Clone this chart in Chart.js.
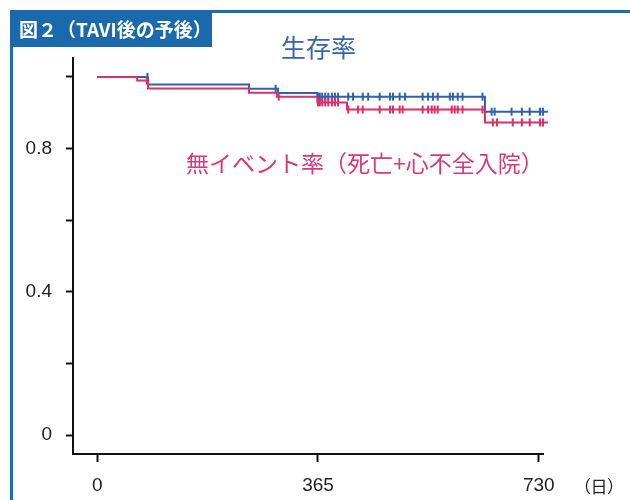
<!DOCTYPE html>
<html lang="ja">
<head>
<meta charset="utf-8">
<script src="https://cdn.jsdelivr.net/npm/chart.js@4.4.1/dist/chart.umd.min.js"></script>
<style>
  body { margin: 0; background: #fff; }
  #wrap { position: relative; width: 630px; height: 500px; overflow: hidden; font-family: "Noto Sans CJK JP", sans-serif; }
  #frame { position: absolute; left: 10px; top: 10px; width: 640px; height: 520px; border-left: 3px solid #1d6db4; border-top: 3px solid #1d6db4; box-sizing: border-box; }
  #title { position: absolute; left: 10px; top: 10px; width: 202px; height: 37px; background: #1b69ad; color: #fff; font-weight: bold; font-size: 19px; line-height: 37px; padding-left: 9px; box-sizing: border-box; white-space: nowrap; }
  canvas { position: absolute; left: 0; top: 0; }
  .lbl { position: absolute; white-space: nowrap; line-height: 1; }
  #survLbl { left: 281px; top: 34px; font-size: 25px; color: #3565ac; }
  #eventLbl { left: 186px; top: 151px; font-size: 23px; color: #d63a7b; }
  #dayLbl { left: 582px; top: 477px; font-size: 17px; color: #222; font-feature-settings: "palt"; }
</style>
</head>
<body>
<div id="wrap">
  <canvas id="km" width="630" height="500"></canvas>
  <div id="frame"></div>
  <div id="title">図２（TAVI後の予後）</div>
  <div class="lbl" id="survLbl">生存率</div>
  <div class="lbl" id="eventLbl">無イベント率（死亡+心不全入院）</div>
  <div class="lbl" id="dayLbl">（日）</div>
</div>
<script>
// survival (blue)
const survDays = [0, 84, 251, 299, 364, 641, 745];
const survRate = [1.0, 0.979, 0.967, 0.955, 0.945, 0.903, 0.903];
const survCensor = [83, 295, 365, 368, 372, 377, 382, 388, 393, 398, 415, 423, 439, 448, 467,
  484, 489, 500, 509, 538, 547, 555, 563, 583, 588, 596, 604, 637, 652, 657, 685, 702, 715,
  732, 737, 743];

// event-free (red)
const eventDays = [0, 66, 84, 251, 297, 364, 413, 641, 745];
const eventRate = [1.0, 0.990, 0.968, 0.956, 0.945, 0.929, 0.909, 0.873, 0.873];
const eventCensor = [82, 300, 365, 368, 372, 377, 382, 388, 393, 398, 415, 431, 439, 467, 484,
  489, 500, 505, 538, 547, 553, 558, 563, 586, 591, 596, 604, 637, 654, 661, 687, 702, 715,
  732, 737, 743];

const xTicks = [0, 365, 730];
const yTicks = [0, 0.2, 0.4, 0.6, 0.8, 1.0];
const yLabels = ["0", "", "0.4", "", "0.8", ""];

const BLUE = "#2f62aa";
const RED = "#db2f68";

function levelAt(days, rates, d) {
  let v = rates[0];
  for (let i = 0; i < days.length; i++) {
    if (days[i] <= d) v = rates[i];
  }
  return v;
}

const toPts = (xs, ys) => xs.map((x, i) => ({ x: x, y: ys[i] }));
const censorPts = (cs, days, rates) => cs.map((d) => ({ x: d, y: levelAt(days, rates, d) }));

const stepLine = (data, color, order) => ({
  data: data,
  borderColor: color,
  borderWidth: 2,
  pointRadius: 0,
  stepped: "before",
  fill: false,
  clip: false,
  order: order,
});

const marks = (data, color, order) => ({
  data: data,
  showLine: false,
  borderColor: color,
  backgroundColor: color,
  pointStyle: "line",
  rotation: 90,
  pointRadius: 4,
  pointBorderWidth: 2,
  clip: false,
  order: order,
});

new Chart(document.getElementById("km"), {
  type: "line",
  data: {
    datasets: [
      stepLine(toPts(survDays, survRate), BLUE, 4),
      stepLine(toPts(eventDays, eventRate), RED, 3),
      marks(censorPts(survCensor, survDays, survRate), BLUE, 2),
      marks(censorPts(eventCensor, eventDays, eventRate), RED, 1),
    ],
  },
  options: {
    responsive: false,
    animation: false,
    devicePixelRatio: 1,
    layout: { padding: { left: 0, right: 87, top: 58, bottom: 0 } },
    plugins: { legend: { display: false }, tooltip: { enabled: false } },
    scales: {
      x: {
        type: "linear",
        min: -40,
        max: 737,
        afterBuildTicks: (scale) => {
          scale.ticks = xTicks.map((v) => ({ value: v }));
        },
        afterFit: (scale) => {
          scale.height = 46;
        },
        grid: { drawOnChartArea: false, tickLength: 8, tickWidth: 2, tickColor: "#111" },
        border: { color: "#111", width: 2 },
        ticks: {
          padding: 12,
          color: "#222",
          font: { family: "Liberation Sans", size: 19 },
          maxRotation: 0,
          callback: (v) => String(v),
        },
      },
      y: {
        min: -0.053,
        max: 1.053,
        afterBuildTicks: (scale) => {
          scale.ticks = yTicks.map((v) => ({ value: v }));
        },
        afterFit: (scale) => {
          scale.width = 73;
        },
        grid: { drawOnChartArea: false, tickLength: 7, tickWidth: 2, tickColor: "#111" },
        border: { color: "#111", width: 2 },
        ticks: {
          padding: 14,
          color: "#222",
          font: { family: "Liberation Sans", size: 19 },
          callback: (v) => yLabels[yTicks.findIndex((t) => Math.abs(t - v) < 1e-6)],
        },
      },
    },
  },
});
</script>
</body>
</html>
